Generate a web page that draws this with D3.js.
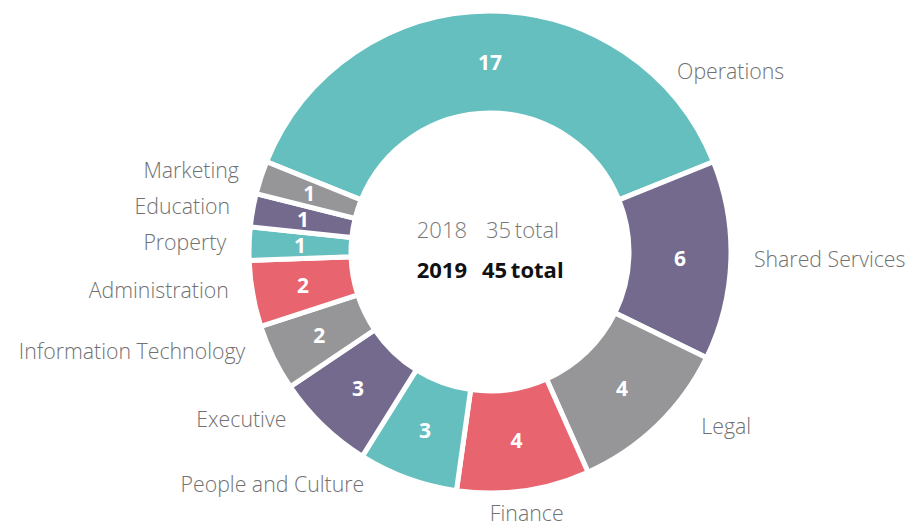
<!DOCTYPE html>
<html>
<head>
<meta charset="utf-8">
<script src="https://cdn.jsdelivr.net/npm/d3@7"></script>
<style>
  body { margin: 0; background: #fff; }
  text { font-family: "Open Sans", sans-serif; }
</style>
</head>
<body>
<script>
// departments, clockwise from the top
const departments = ["Operations", "Shared Services", "Legal", "Finance", "People and Culture",
    "Executive", "Information Technology", "Administration", "Property", "Education", "Marketing"];
// slice sizes as drawn (they add up to the 45 total)
const sizes = [17, 6, 5, 4, 3, 3, 2, 2, 1, 1, 1];
// numbers printed on the slices
const shown = [17, 6, 4, 4, 3, 3, 2, 2, 1, 1, 1];
const years = ["2018", "2019"];
const totals = [35, 45];

const width = 908, height = 529;
const cx = 490, cy = 252;
const outerR = 241, innerR = 139, labelR = 264;
const palette = ["#65bfbf", "#736a8e", "#969699", "#e8646f"];

var svg = d3.select("body").append("svg")
    .attr("width", width)
    .attr("height", height);

var g = svg.append("g")
    .attr("transform", "translate(" + cx + "," + cy + ")");

var total = d3.sum(sizes);
var start = -Math.PI * sizes[0] / total; // first slice centred on the top

var pie = d3.pie().sort(null).value(function(d) { return d; })
    .startAngle(start).endAngle(start + 2 * Math.PI);
var arcs = pie(sizes);

var arc = d3.arc().innerRadius(innerR).outerRadius(outerR);
var color = d3.scaleOrdinal().domain(d3.range(sizes.length)).range(palette);

g.selectAll("path.slice")
    .data(arcs)
    .enter().append("path")
    .attr("class", "slice")
    .attr("d", arc)
    .attr("fill", function(d, i) { return color(i); })
    .attr("stroke", "#fff")
    .attr("stroke-width", 5);

// values inside the ring
g.selectAll("text.value")
    .data(arcs)
    .enter().append("text")
    .attr("class", "value")
    .attr("transform", function(d) { return "translate(" + arc.centroid(d) + ")"; })
    .attr("text-anchor", "middle")
    .attr("dy", "0.36em")
    .attr("fill", "#fff")
    .attr("font-weight", 700)
    .attr("font-size", 21)
    .text(function(d, i) { return shown[i]; });

// outside labels: mid angle, lower labels pushed away from the bottom
function labelPos(d) {
    var a = (d.startAngle + d.endAngle) / 2;
    var s = Math.sin(a), c = Math.cos(a);
    if (c < 0 && Math.abs(s) > 0.3) {
        a += (s > 0 ? -1 : 1) * (-c) * 9 * Math.PI / 180;
    }
    var r = labelR + (c < -0.3 && s > 0.3 ? 10 : 0);
    var x = r * Math.sin(a), y = -r * Math.cos(a);
    var top = -180; // keep labels inside the frame
    if (y < top) {
        y = top;
        x = Math.sqrt(r * r - y * y) * (s >= 0 ? 1 : -1) - 6;
    }
    return [x, y];
}

g.selectAll("text.label")
    .data(arcs)
    .enter().append("text")
    .attr("class", "label")
    .attr("x", function(d) { return labelPos(d)[0]; })
    .attr("y", function(d) { return labelPos(d)[1]; })
    .attr("dy", "0.35em")
    .attr("text-anchor", function(d) {
        var x = labelPos(d)[0];
        if (Math.abs(x) < 50) return "middle";
        return x > 0 ? "start" : "end";
    })
    .attr("fill", "#717171")
    .attr("font-weight", 300)
    .attr("font-size", 21.3)
    .text(function(d, i) { return departments[i]; });

// centre totals
var centre = g.selectAll("g.total")
    .data(years)
    .enter().append("g")
    .attr("class", "total")
    .attr("transform", function(d, i) { return "translate(0," + (-22 + i * 40) + ")"; });

centre.append("text")
    .attr("x", -23)
    .attr("text-anchor", "end")
    .attr("dy", "0.35em")
    .attr("font-size", 22)
    .attr("font-weight", function(d, i) { return i ? 700 : 300; })
    .attr("fill", function(d, i) { return i ? "#111" : "#777"; })
    .text(function(d) { return d; });

centre.append("text")
    .attr("x", function(d, i) { return i ? -8 : -4; })
    .attr("text-anchor", "start")
    .attr("dy", "0.35em")
    .attr("font-size", 22)
    .attr("font-weight", function(d, i) { return i ? 700 : 300; })
    .attr("fill", function(d, i) { return i ? "#111" : "#777"; })
    .style("word-spacing", "-2px")
    .text(function(d, i) { return totals[i] + " total"; });
</script>
</body>
</html>
